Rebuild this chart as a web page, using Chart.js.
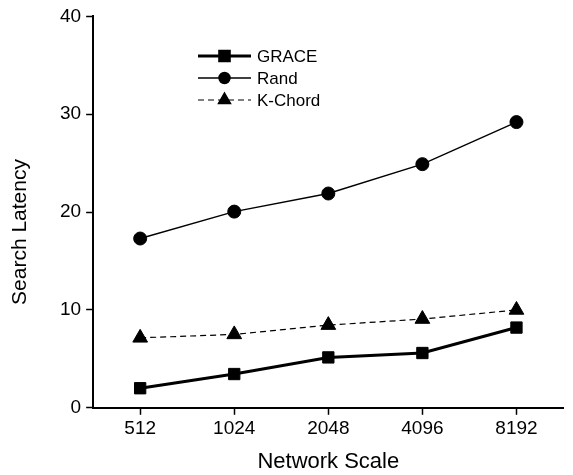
<!DOCTYPE html>
<html>
<head>
<meta charset="utf-8">
<script src="https://cdn.jsdelivr.net/npm/chart.js@4"></script>
<style>
  html, body { margin: 0; padding: 0; background: #fff; }
  #wrap { width: 573px; height: 475px; }
</style>
</head>
<body>
<div id="wrap"><canvas id="myChart" width="573" height="475"></canvas></div>
<script>
let scales = ["512", "1024", "2048", "4096", "8192"];
let grace = [2.0, 3.45, 5.15, 5.6, 8.2];
let rand = [17.3, 20.05, 21.9, 24.9, 29.2];
let kchord = [7.15, 7.5, 8.45, 9.07, 10.0];
let yTicks = [0, 10, 20, 30, 40];

const font = "'Liberation Sans', Arial, sans-serif";

// legend drawn inside the plot, upper left, plus the y title (sits below the axis middle)
const extras = {
  id: "extras",
  afterDraw(chart) {
    const ctx = chart.ctx;
    const x0 = 198, x1 = 251;
    let y = 56;
    chart.data.datasets.forEach(ds => {
      ctx.save();
      ctx.strokeStyle = "#000";
      ctx.lineWidth = ds.borderWidth;
      ctx.setLineDash(ds.borderDash || []);
      ctx.beginPath();
      ctx.moveTo(x0, y);
      ctx.lineTo(x1, y);
      ctx.stroke();
      ctx.setLineDash([]);
      Chart.helpers.drawPoint(ctx, {
        pointStyle: ds.pointStyle,
        radius: ds.pointRadius * 0.85,
        borderWidth: 1
      }, (x0 + x1) / 2, y);
      ctx.fillStyle = "#000";
      ctx.font = "17px " + font;
      ctx.textBaseline = "middle";
      ctx.fillText(ds.label, x1 + 6, y + 1);
      ctx.restore();
      y += 22;
    });

    ctx.save();
    ctx.translate(20, 232);
    ctx.rotate(-Math.PI / 2);
    ctx.fillStyle = "#000";
    ctx.font = "21px " + font;
    ctx.textAlign = "center";
    ctx.textBaseline = "middle";
    ctx.fillText("Search Latency", 0, 0);
    ctx.restore();
  }
};

new Chart(document.getElementById("myChart"), {
  type: "line",
  data: {
    labels: scales,
    datasets: [
      {
        label: "GRACE", data: grace, borderColor: "#000", backgroundColor: "#000",
        borderWidth: 3, pointStyle: "rect", pointRadius: 8, pointBorderWidth: 1
      },
      {
        label: "Rand", data: rand, borderColor: "#000", backgroundColor: "#000",
        borderWidth: 1.4, pointStyle: "circle", pointRadius: 6.5, pointBorderWidth: 1
      },
      {
        label: "K-Chord", data: kchord, borderColor: "#000", backgroundColor: "#000",
        borderWidth: 1.2, borderDash: [6, 4], pointStyle: "triangle", pointRadius: 8.5, pointBorderWidth: 1
      }
    ]
  },
  options: {
    responsive: false,
    animation: false,
    layout: { padding: { top: 16, right: 0, left: 55, bottom: 0 } },
    plugins: { legend: { display: false }, tooltip: { enabled: false } },
    scales: {
      x: {
        offset: true,
        grid: { drawOnChartArea: false, offset: false, tickLength: 7, color: "#000", tickWidth: 1.5 },
        border: { color: "#000", width: 2 },
        ticks: { color: "#000", font: { family: font, size: 19 }, padding: 3 },
        title: { display: true, text: "Network Scale", color: "#000", font: { family: font, size: 22 }, padding: { top: 5, bottom: 0 } }
      },
      y: {
        min: 0, max: 40,
        afterBuildTicks: axis => { axis.ticks = yTicks.map(v => ({ value: v })); },
        grid: { drawOnChartArea: false, tickLength: 7, color: "#000", tickWidth: 1.5 },
        border: { color: "#000", width: 2 },
        ticks: { color: "#000", font: { family: font, size: 19 }, padding: 5 }
      }
    }
  },
  plugins: [extras]
});
</script>
</body>
</html>
